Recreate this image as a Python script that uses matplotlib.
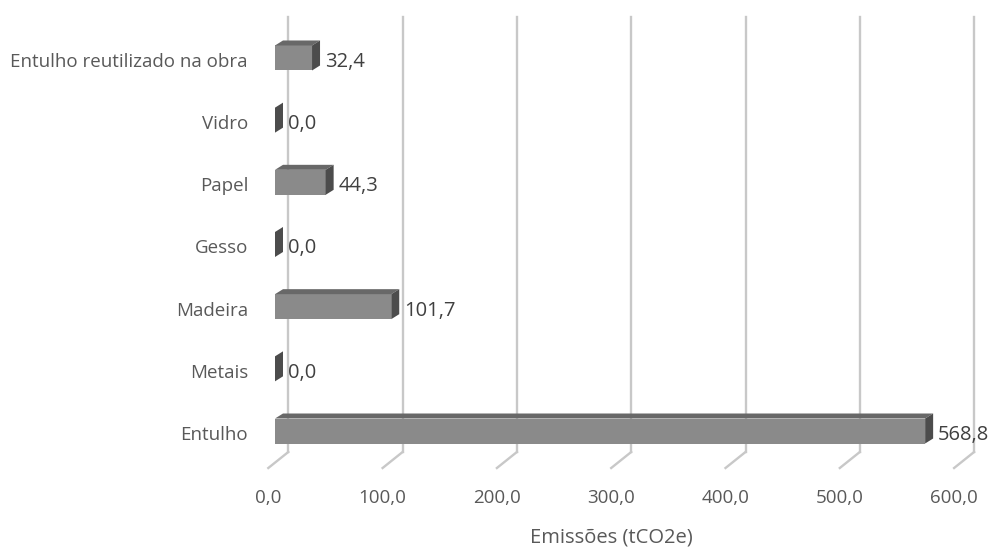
import matplotlib.pyplot as plt
from matplotlib.patches import Polygon

categorias = ["Entulho", "Metais", "Madeira", "Gesso", "Papel", "Vidro",
              "Entulho reutilizado na obra"]
emissoes = [568.8, 0.0, 101.7, 0.0, 44.3, 0.0, 32.4]
ticks = [0, 100, 200, 300, 400, 500, 600]
titulo_x = "Emissões (tCO2e)"

# escala: 1 unidade de emissao = 1.143 px, 1 categoria = 62.17 px
PX_X = 1 / 1.143
PX_Y = 1 / 62.17

COR_FRENTE = "#8a8a8a"
COR_TOPO = "#686868"
COR_LADO = "#4c4c4c"
COR_GRADE = "#c8c8c8"
COR_TEXTO = "#595959"

plt.rcParams['font.family'] = ['Open Sans', 'DejaVu Sans']

fig = plt.figure(figsize=(9.92, 5.5), dpi=100)
ax = fig.add_axes([0, 0, 1, 1])
ax.set_xlim(-275 * PX_X, (992 - 275) * PX_X)
ax.set_ylim(-(550 - 431) * PX_Y, 431 * PX_Y)
ax.axis('off')

# grade no plano de fundo e linhas do piso
gx = 13.3 * PX_X
fx = -6.7 * PX_X
y_topo = (431 - 16.7) * PX_Y
y_fundo = (431 - 452) * PX_Y
y_frente = (431 - 468) * PX_Y
for t in ticks:
    ax.plot([t + gx, t + gx], [y_fundo, y_topo], color=COR_GRADE, lw=1.7, zorder=1)
    ax.plot([t + gx, t + fx], [y_fundo, y_frente], color=COR_GRADE, lw=1.7, zorder=1)
    ax.text(t + fx, (431 - 498) * PX_Y, f"{t:.1f}".replace(".", ","),
            ha="center", va="center", fontsize=13.5, color=COR_TEXTO)

ax.text(300 + fx, (431 - 538) * PX_Y, titulo_x, ha="center", va="center",
        fontsize=14.5, color=COR_TEXTO)

# barras 3D
h = 25 * PX_Y
dx = 8 * PX_X
dy = 5 * PX_Y
for i, (nome, v) in enumerate(zip(categorias, emissoes)):
    b, t = i - h / 2, i + h / 2
    ax.add_patch(Polygon([(0, b), (v, b), (v, t), (0, t)], closed=True,
                         facecolor=COR_FRENTE, edgecolor="none", zorder=3))
    ax.add_patch(Polygon([(0, t), (v, t), (v + dx, t + dy), (dx, t + dy)],
                         closed=True, facecolor=COR_TOPO, edgecolor="none", zorder=3))
    ax.add_patch(Polygon([(v, b), (v, t), (v + dx, t + dy), (v + dx, b + dy)],
                         closed=True, facecolor=COR_LADO, edgecolor="none", zorder=3))
    ax.text(v + dx + 5 * PX_X, i - 4 * PX_Y, f"{v:.1f}".replace(".", ","),
            ha="left", va="center", fontsize=14.5, color="#404040")
    ax.text(-27 * PX_X, i - 4 * PX_Y, nome, ha="right", va="center",
            fontsize=13.5, color=COR_TEXTO)

fig.savefig("out.png", dpi=100)
